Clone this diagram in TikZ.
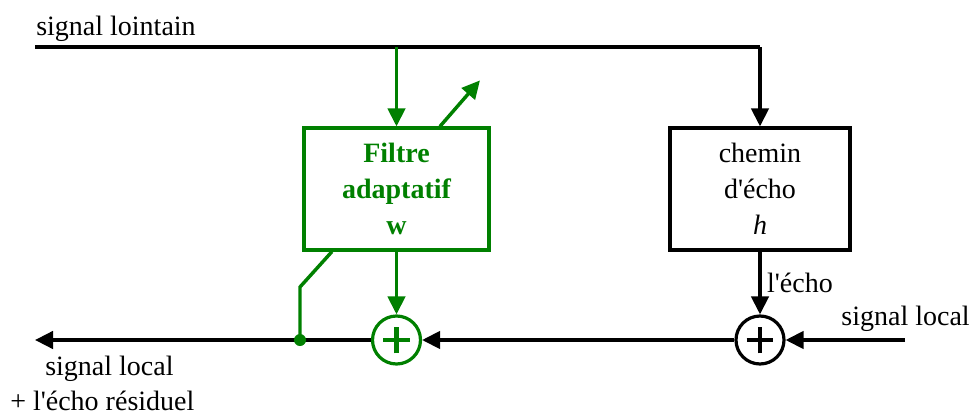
\documentclass[tikz,border=0pt]{standalone}
\usepackage{fontspec}
\setmainfont{Liberation Serif}
\usetikzlibrary{arrows.meta}
\definecolor{filtgreen}{RGB}{0,128,0}
\tikzset{
  sig/.style={line width=2.6pt, -{Triangle[length=13.5pt,width=13pt]}},
  wire/.style={line width=2.6pt},
  txt/.style={font=\fontsize{21}{27}\selectfont, inner sep=0pt},
  block/.style={draw, line width=2.4pt, minimum height=91.5pt, align=center,
    font=\fontsize{21}{27}\selectfont},
  adder/.style={draw, circle, line width=2.4pt, minimum size=36pt, inner sep=0pt,
    path picture={\draw[line width=3.2pt] ([xshift=-10pt]path picture bounding box.center) -- ([xshift=10pt]path picture bounding box.center)
      ([yshift=-10pt]path picture bounding box.center) -- ([yshift=10pt]path picture bounding box.center);}},
}
\begin{document}
\begin{tikzpicture}[x=0.75pt, y=-0.75pt]
    \useasboundingbox (0,0) rectangle (974,418);

    % blocks
    \node[block, draw=filtgreen, text=filtgreen, minimum width=138.75pt, font=\fontsize{21}{27}\selectfont\bfseries] (filt) at (396.5,189) {Filtre\\adaptatif\\w};
    \node[block, minimum width=135pt] (echo) at (760,189) {chemin\\d\textquotesingle écho\\\textit{h}};
    \node[adder, draw=filtgreen, text=filtgreen] (sumw) at (396.5,340) {};
    \node[adder] (sumh) at (760,340) {};

    \coordinate (farL) at (35,47);
    \coordinate (outL) at (35,340);
    \coordinate (inR) at (905,340);
    \coordinate (tap) at (300,340);
    \coordinate (knee) at (300,287);

    % far-end signal
    \draw[wire] (farL) -- (echo.north |- farL);
    \draw[sig] (echo.north |- farL) -- (echo.north);
    \draw[sig, filtgreen] (filt.north |- farL) -- (filt.north);
    \draw[sig, filtgreen] ([xshift=32.6pt]filt.north) -- ++(40,-46);

    % echo path and sums
    \draw[sig] (echo.south) -- (sumh.north) node[midway, right=4pt, txt] {l\textquotesingle écho};
    \draw[sig] (inR) -- (sumh.east);
    \draw[sig] (sumh.west) -- (sumw.east);
    \draw[sig, filtgreen] (filt.south) -- (sumw.north);
    \draw[sig] (sumw.west) -- (outL);

    % error feedback to the filter
    \draw[wire, filtgreen] (tap) -- (knee) -- ([xshift=-48.4pt]filt.south);
    \fill[filtgreen] (tap) circle (4.5pt);

    % labels
    \node[txt, anchor=base west] (lointain) at (36,35) {signal lointain};
    \node[txt, anchor=base east] (local) at (970,325) {signal local};
    \node[txt, anchor=base west] (sortie1) at (45,375) {signal local};
    \node[txt, anchor=base west] (sortie2) at (10,410) {+ l\textquotesingle écho résiduel};
\end{tikzpicture}
\end{document}
